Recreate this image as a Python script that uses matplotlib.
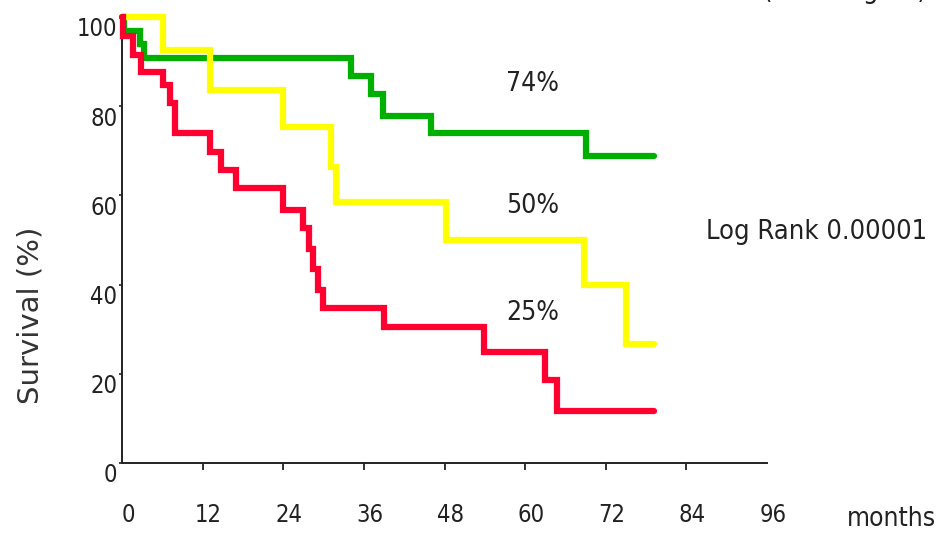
import matplotlib
matplotlib.use("Agg")
import matplotlib.pyplot as plt
from matplotlib import font_manager
from matplotlib.transforms import ScaledTranslation

# Kaplan-Meier step curves (months, survival %)
green_t = [0, 0.3, 2.7, 3.2, 34.1, 37.1, 38.8, 46.0, 69.0, 79.2]
green_s = [100, 96.9, 94.0, 90.7, 86.8, 82.7, 77.8, 74.0, 68.8, 68.8]

yellow_t = [0, 6.1, 13.1, 24.0, 31.1, 31.9, 48.2, 68.8, 75.0, 79.2]
yellow_s = [100, 92.6, 83.6, 75.4, 66.4, 58.6, 50.0, 39.9, 26.6, 26.6]

red_t = [0, 0.2, 1.7, 2.9, 6.1, 7.1, 7.9, 13.1, 14.8, 17.0, 24.0, 26.9,
         27.9, 28.4, 29.2, 29.9, 39.0, 53.9, 62.9, 64.8, 79.2]
red_s = [100, 95.8, 91.5, 87.7, 84.8, 80.7, 73.9, 69.8, 65.7, 61.6, 56.7, 52.6,
         47.9, 43.4, 38.9, 34.7, 30.6, 25.0, 18.6, 11.7, 11.7]

x_ticks = [0, 12, 24, 36, 48, 60, 72, 84, 96]
y_ticks = [0, 20, 40, 60, 80, 100]

five_year_labels = ["74%", "50%", "25%"]
five_year_pos = [(61.1, 83.3), (61.1, 56.0), (61.1, 32.1)]

# pick a narrow sans face if available
fonts = font_manager.fontManager.ttflist
names = {f.name for f in fonts}
if "Liberation Sans Narrow" in names:
    narrow = dict(family="Liberation Sans Narrow")
elif any(f.name == "DejaVu Sans" and "condensed" in str(f.stretch) for f in fonts):
    narrow = dict(family="DejaVu Sans", stretch="condensed")
else:
    narrow = dict(family="Liberation Sans")

W, H = 946, 534
fig = plt.figure(figsize=(W / 100, H / 100), dpi=100)
ax = fig.add_axes([122 / W, 71 / H, 645 / W, 446 / H])

lw = 4.5
style = dict(where="post", lw=lw, solid_capstyle="round",
             solid_joinstyle="miter", clip_on=False)
ax.step(green_t, green_s, color="#00b000", zorder=2, **style)
ax.step(yellow_t, yellow_s, color="#ffff00", zorder=3, **style)
ax.step(red_t, red_s, color="#ff0030", zorder=4, **style)

ax.set_xlim(0, 96)
ax.set_ylim(0, 100)
for s in ("top", "right"):
    ax.spines[s].set_visible(False)
for s in ("left", "bottom"):
    ax.spines[s].set_color("#222222")
    ax.spines[s].set_linewidth(1.4)

tick_fs = 17
ax.set_xticks(x_ticks)
ax.set_yticks(y_ticks)
ax.set_xticklabels([str(v) for v in x_ticks], color="#222222", fontsize=tick_fs, **narrow)
ax.set_yticklabels([str(v) for v in y_ticks], color="#222222", fontsize=tick_fs, **narrow)
ax.tick_params(axis="x", direction="out", length=5, width=1.3, color="#222222", pad=24)
ax.tick_params(axis="y", direction="out", length=2, width=1.2, color="#222222", pad=1.5)
xt = ax.xaxis.get_major_ticks()
xt[0].tick1line.set_visible(False)
xt[-1].tick1line.set_visible(False)

for lab in ax.get_xticklabels():
    lab.set_transform(lab.get_transform() + ScaledTranslation(0.06, 0, fig.dpi_scale_trans))
for lab in ax.get_yticklabels():
    lab.set_transform(lab.get_transform() + ScaledTranslation(0, -0.10, fig.dpi_scale_trans))

fig.text(30 / W, 1 - 315 / H, "Survival (%)", rotation=90, ha="center", va="center",
         fontsize=21, color="#333333", family="DejaVu Sans")

for txt, (x, y) in zip(five_year_labels, five_year_pos):
    ax.text(x, y, txt, ha="center", va="baseline", fontsize=19, color="#222222", **narrow)

ax.text(86.9, 50.2, "Log Rank 0.00001", ha="left", va="baseline", fontsize=19.5,
        color="#222222", clip_on=False, **narrow)
ax.text(107.9, -14.2, "months", ha="left", va="baseline", fontsize=19,
        color="#222222", clip_on=False, **narrow)

# header text running off the top edge of the figure
fig.text(763 / W, 1 + 2.5 / H, "(>300 ng/ml)", ha="left", va="baseline", fontsize=19.5,
         color="#222222", **narrow)

fig.savefig("out.png", dpi=100)
